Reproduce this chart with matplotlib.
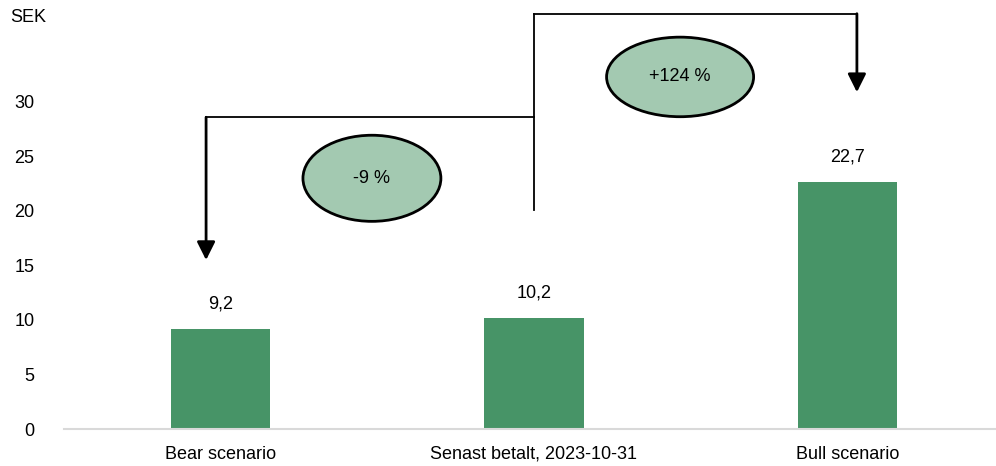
import matplotlib.pyplot as plt
from matplotlib.patches import Ellipse
from matplotlib import font_manager

# Data
categories = ['Bear scenario', 'Senast betalt, 2023-10-31', 'Bull scenario']
values = [9.2, 10.2, 22.7]
value_labels = ['9,2', '10,2', '22,7']
change_labels = ['-9 %', '+124 %']
yticks = [0, 5, 10, 15, 20, 25, 30]

names = {f.name for f in font_manager.fontManager.ttflist}
fam = 'Liberation Sans Narrow' if 'Liberation Sans Narrow' in names else 'Liberation Sans'
plt.rcParams['font.family'] = [fam, 'DejaVu Sans']

bar_color = '#479467'
ell_color = '#a3c9b1'

fig = plt.figure(figsize=(9.96, 4.66), dpi=100)
ax = fig.add_axes([63.75 / 996, 1 - 429 / 466, 940.5 / 996, 381.5 / 466])

x = list(range(len(categories)))
ax.bar(x, values, width=0.316, color=bar_color, zorder=2)
for xi, v, lab in zip(x, values, value_labels):
    ax.text(xi, v + 1.5, lab, ha='center', va='bottom', fontsize=13)

ax.set_xlim(-0.5, 2.5)
ax.set_ylim(0, 35)
ax.set_yticks(yticks)
ax.set_yticklabels([str(t) for t in yticks], fontsize=13)
ax.set_xticks(x)
ax.set_xticklabels(categories, fontsize=13)
ax.tick_params(axis='both', length=0, pad=12)
ax.tick_params(axis='y', pad=21)
for s in ['top', 'right', 'left']:
    ax.spines[s].set_visible(False)
ax.spines['bottom'].set_color('#d9d9d9')
ax.spines['bottom'].set_linewidth(1.5)

fig.text(10 / 996, 1 - 18 / 466, 'SEK', fontsize=13, va='center', ha='left')

# Bracket lines
lw = 1.3
xl, xm, xr = -0.046, 1.0, 2.03
y_low, y_mid, y_top = 20.1, 28.6, 38.1
ax.plot([xm, xm], [y_low, y_top], color='black', lw=lw, clip_on=False)
ax.plot([xl, xm], [y_mid, y_mid], color='black', lw=lw, clip_on=False)
ax.plot([xm, xr], [y_top, y_top], color='black', lw=lw, clip_on=False)
arrow = dict(arrowstyle='-|>,head_length=1.1,head_width=0.55', color='black', lw=2,
             shrinkA=0, shrinkB=0)
ax.annotate('', xy=(xl, 15.5), xytext=(xl, y_mid), arrowprops=arrow, annotation_clip=False)
ax.annotate('', xy=(xr, 30.9), xytext=(xr, y_top), arrowprops=arrow, annotation_clip=False)

# Change ellipses
ellipses = [(0.483, 23.0, 0.44, 7.9), (1.466, 32.3, 0.469, 7.3)]
for (cx, cy, w, h), lab in zip(ellipses, change_labels):
    e = Ellipse((cx, cy), w, h, facecolor=ell_color, edgecolor='black', lw=2,
                clip_on=False, zorder=3)
    ax.add_patch(e)
    ax.text(cx, cy, lab, ha='center', va='center', fontsize=13, zorder=4)

fig.savefig('out.png', dpi=100)
